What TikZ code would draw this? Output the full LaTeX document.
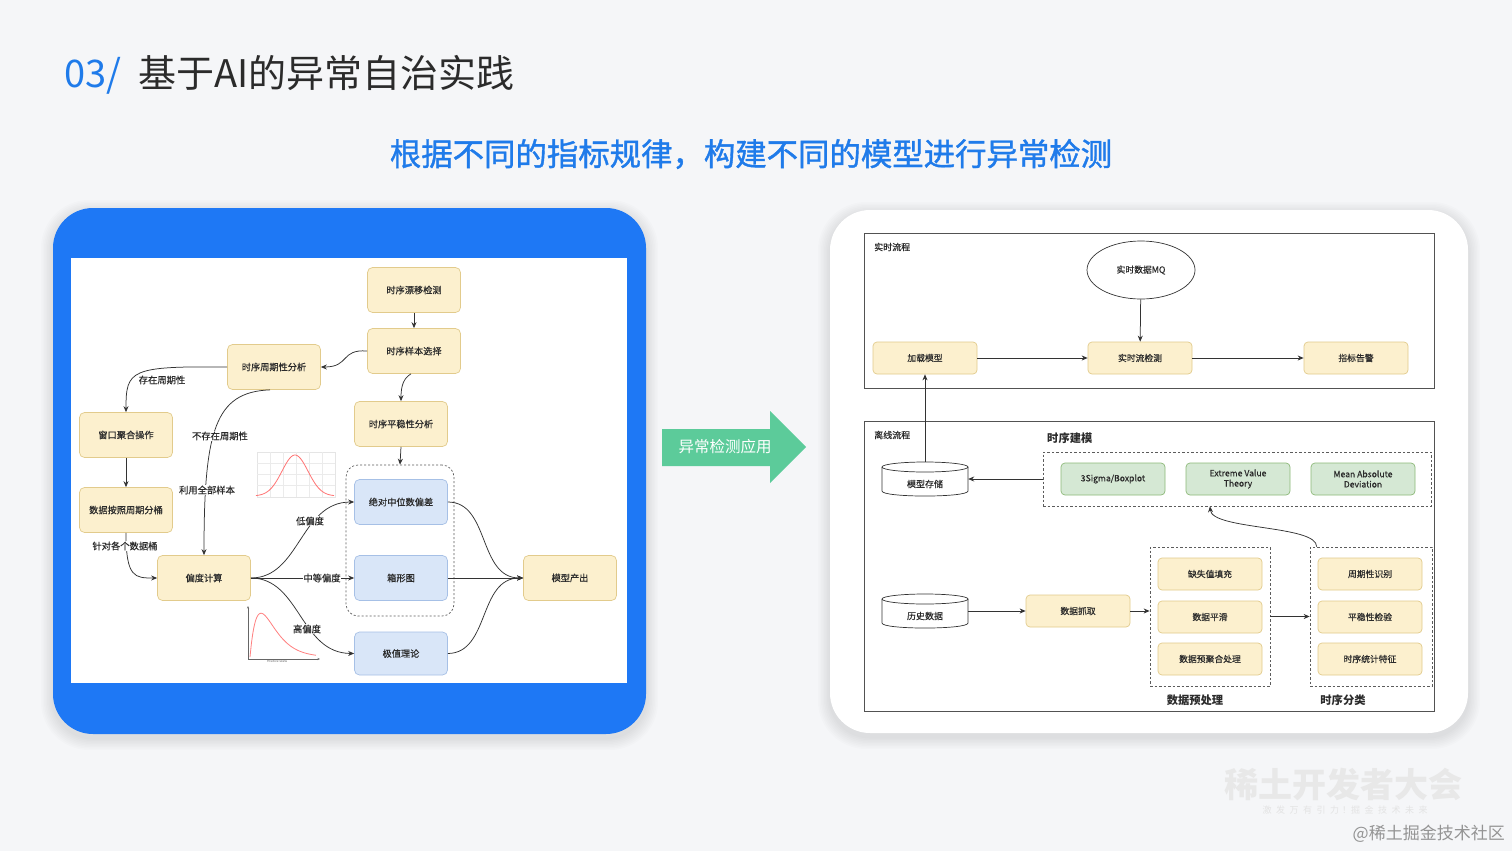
\documentclass[tikz,border=0pt]{standalone}
\usepackage{fontspec}
\setmainfont{Noto Sans CJK SC}
\newfontfamily\subfont[FakeBold=1.2]{Noto Sans CJK SC}
\newfontfamily\dfont[FakeBold=0.5]{Noto Sans CJK SC}
\usetikzlibrary{arrows.meta,shapes.geometric}
\definecolor{bgc}{HTML}{F5F6F8}
\definecolor{titleblue}{HTML}{1F7BEA}
\definecolor{panelblue}{HTML}{1E78F5}
\definecolor{txt}{HTML}{2B2B2B}
\definecolor{yfill}{HTML}{FCF0CE}
\definecolor{ybd}{HTML}{E2CB8C}
\definecolor{bfill}{HTML}{D9E6F8}
\definecolor{bbd}{HTML}{A6C0E6}
\definecolor{gfill}{HTML}{D5E8D4}
\definecolor{gbd}{HTML}{8DB979}
\definecolor{garrow}{HTML}{5CCB9A}
\definecolor{lnc}{HTML}{333333}
\newcommand\myfs[1]{\fontsize{#1}{#1}\selectfont}
\newcommand\mycyl[2]{%
  \fill[white] ({#1-43},{#2-12}) -- ({#1-43},{#2+12}) .. controls ({#1-43},{#2+18.7}) and ({#1+43},{#2+18.7}) .. ({#1+43},{#2+12}) -- ({#1+43},{#2-12}) .. controls ({#1+43},{#2-18.7}) and ({#1-43},{#2-18.7}) .. cycle;
  \draw[line width=0.7pt,lnc] ({#1-43},{#2-12}) -- ({#1-43},{#2+12}) .. controls ({#1-43},{#2+18.7}) and ({#1+43},{#2+18.7}) .. ({#1+43},{#2+12}) -- ({#1+43},{#2-12});
  \draw[line width=0.7pt,lnc] ({#1},{#2-12}) ellipse [x radius=43, y radius=5];
}
\newcommand\softshadow[5]{%
  \foreach \s in {1,...,8} {
    \fill[black, opacity=0.012, rounded corners={#5+\s}] ({#1-\s*1.5},{#2-\s*1.5+4}) rectangle ({#3+\s*1.5},{#4+\s*1.5+4});
  }
}
\tikzset{
  yl/.style={draw=ybd, fill=yfill, rounded corners=5pt, minimum width=93pt, minimum height=45pt, font=\dfont\myfs{9.2}, text=txt, line width=0.7pt, inner sep=1pt},
  bl/.style={yl, draw=bbd, fill=bfill},
  yr/.style={draw=ybd, fill=yfill, rounded corners=4pt, minimum width=104pt, minimum height=32pt, font=\dfont\myfs{8.8}, text=txt, line width=0.7pt, inner sep=1pt},
  gr/.style={yr, draw=gbd, fill=gfill, align=center, font=\dfont\fontsize{8.6}{10.2}\selectfont},
  lab/.style={fill=white, inner sep=0.8pt, font=\dfont\myfs{9.3}, text=txt},
  arr/.style={-{Stealth[length=6pt,width=5pt]}, line width=0.75pt, draw=lnc},
  dbox/.style={draw=lnc!80, dash pattern=on 2.5pt off 2pt, line width=0.7pt},
  frame/.style={draw=lnc!85, line width=1pt, fill=white},
  hd/.style={font=\bfseries\myfs{11.3}, text=txt, inner sep=0pt},
  sm/.style={font=\dfont\myfs{9}, text=txt, inner sep=0pt},
}
\begin{document}
\begin{tikzpicture}[x=1pt,y=-1pt]
\useasboundingbox (0,0) rectangle (1512,851);
\fill[bgc] (0,0) rectangle (1512,851);

% ---------------- titles
\node[anchor=base west, text=titleblue, font=\myfs{38}, inner sep=0] (num) at (64,88) {03/};
\node[anchor=base west, text=txt, font=\myfs{38}, inner sep=0] (title) at (138,88) {基于AI的异常自治实践};
\node[text=titleblue, font=\subfont\myfs{31.4}, inner sep=0] (sub) at (751,154) {根据不同的指标规律，构建不同的模型进行异常检测};

% ---------------- left panel
\softshadow{53}{208}{646}{734}{40}
\fill[panelblue, rounded corners=40pt] (53,208) rectangle (646,734);
\fill[white] (71,258) rectangle (627,683);

% small plots
\draw[black!10, line width=0.4pt] (257,452) rectangle (335,497);
\foreach \gx in {270,283,296,309,322} \draw[black!8, line width=0.4pt] (\gx,452) -- (\gx,497);
\foreach \gy in {463,474,485} \draw[black!8, line width=0.4pt] (257,\gy) -- (335,\gy);
\draw[red!55, line width=0.8pt] plot[domain=-3:3, samples=50, smooth] ({295+\x*13},{496-41*exp(-\x*\x/2)});
\draw[black!60, line width=0.5pt, -{Stealth[length=2.5pt,width=2pt]}] (248,659) -- (248,606);
\draw[black!60, line width=0.5pt, -{Stealth[length=2.5pt,width=2pt]}] (248,659) -- (320,659);
\draw[red!50, line width=0.8pt] plot[domain=0:6, samples=50, smooth] ({250+\x*11},{657-119*\x*exp(-\x)});
\node[font=\myfs{3.2}, text=black!60, inner sep=0] (pskew) at (277,661) {Positive Skew};

% nodes
\node[yl] (drift) at (414,290) {时序漂移检测};
\node[yl] (samp) at (414,351) {时序样本选择};
\node[yl] (per) at (274,367) {时序周期性分析};
\node[yl] (stab) at (401,424) {时序平稳性分析};
\node[yl] (win) at (126,435) {窗口聚合操作};
\node[yl] (buck) at (126,510) {数据按照周期分桶};
\node[yl] (skew) at (204,578) {偏度计算};
\node[draw=lnc!80, dash pattern=on 2pt off 2pt, rounded corners=12pt, line width=0.7pt, minimum width=108pt, minimum height=151pt] (grp) at (400,540.5) {};
\node[bl] (mad) at (401,502) {绝对中位数偏差};
\node[bl] (boxp) at (401,578) {箱形图};
\node[bl, minimum height=43pt] (evt) at (401,653.5) {极值理论};
\node[yl] (out) at (570,578) {模型产出};

% edges
\draw[arr] (drift) -- (samp);
\draw[arr] (samp.west) .. controls (340,349) and (350,367) .. (per.east);
\draw[arr] ([xshift=-3pt]samp.south) .. controls (404,378) and (401,385) .. (stab.north);
\draw[arr] (stab.south) -- (grp.north);
\draw[arr] (per.west) .. controls (130,366) and (126,370) .. (win.north);
\draw[arr] ([xshift=-4pt]per.south) .. controls (215,392) and (204,430) .. (skew.north);
\draw[arr] (win) -- (buck);
\draw[arr] (buck.south) .. controls (126,578) and (135,578) .. (skew.west);
\draw[arr] (skew.east) .. controls (300,578) and (300,502) .. (mad.west);
\draw[arr] (skew.east) -- (boxp.west);
\draw[arr] (skew.east) .. controls (300,578) and (300,653) .. (evt.west);
\draw[arr] (mad.east) .. controls (490,502) and (478,578) .. (out.west);
\draw[arr] (boxp.east) -- (out.west);
\draw[arr] (evt.east) .. controls (490,653) and (478,578) .. (out.west);

% labels
\node[lab, fill=none] (l1) at (162,380) {存在周期性};
\node[lab] (l2) at (220,436) {不存在周期性};
\node[lab] (l3) at (207,490) {利用全部样本};
\node[lab] (l4) at (125,546) {针对各个数据桶};
\node[lab] (l5) at (310,521) {低偏度};
\node[lab] (l6) at (322,578) {中等偏度};
\node[lab] (l7) at (307,629) {高偏度};

% ---------------- green arrow
\fill[garrow] (662,429) -- (770,429) -- (770,411) -- (806,447) -- (770,483) -- (770,466) -- (662,466) -- cycle;
\node[text=white, font=\myfs{15.5}, inner sep=0] (ga) at (725,447) {异常检测应用};

% ---------------- right panel
\softshadow{830}{210}{1468}{733}{40}
\fill[white, rounded corners=40pt] (830,210) rectangle (1468,733);

\node[frame, minimum width=570pt, minimum height=155pt] (rt) at (1149,310.5) {};
\node[frame, minimum width=570pt, minimum height=290pt] (off) at (1149,566) {};
\node[sm, anchor=west] (rtl) at (874,247) {实时流程};
\node[sm, anchor=west] (offl) at (874,435) {离线流程};

\node[ellipse, draw=lnc, line width=0.7pt, fill=white, minimum width=108pt, minimum height=58pt, font=\dfont\myfs{8.8}, text=txt] (mq) at (1141,270) {实时数据MQ};
\node[yr] (load) at (925,358) {加载模型};
\node[yr] (rtd) at (1140,358) {实时流检测};
\node[yr] (alarm) at (1356,358) {指标告警};
\draw[arr] (mq) -- (rtd);
\draw[arr] (load) -- (rtd);
\draw[arr] (rtd) -- (alarm);

\node[hd, anchor=west] (tsmt) at (1047,438) {时序建模};
\node[dbox, minimum width=388pt, minimum height=54pt] (tsm) at (1237,479) {};
\node[gr] (g1) at (1113,479) {3Sigma/Boxplot};
\node[gr] (g2) at (1238,479) {Extreme Value\\Theory};
\node[gr] (g3) at (1363,479) {Mean Absolute\\Deviation};

\mycyl{925}{479}
\node[minimum width=86pt, minimum height=34pt, inner sep=0] (ms) at (925,479) {};
\node[sm] (mst) at (925,484) {模型存储};
\draw[arr] (ms.north) -- (load.south);
\draw[arr] (tsm.west) -- (ms.east);

\mycyl{925}{611}
\node[minimum width=86pt, minimum height=34pt, inner sep=0] (hist) at (925,611) {};
\node[sm] (histt) at (925,616) {历史数据};
\node[yr] (grab) at (1078,611) {数据抓取};
\node[dbox, minimum width=120pt, minimum height=139pt] (pre) at (1210,616.5) {};
\node[yr] (p1) at (1210,574) {缺失值填充};
\node[yr] (p2) at (1210,617) {数据平滑};
\node[yr] (p3) at (1210,659) {数据预聚合处理};
\node[dbox, minimum width=122pt, minimum height=139pt] (cls) at (1371,616.5) {};
\node[yr] (c1) at (1370,574) {周期性识别};
\node[yr] (c2) at (1370,617) {平稳性检验};
\node[yr] (c3) at (1370,659) {时序统计特征};
\node[hd] (prel) at (1195,700) {数据预处理};
\node[hd] (clsl) at (1343,700) {时序分类};

\draw[arr] (hist.east) -- (grab.west);
\draw[arr] (grab.east) -- (grab.east -| pre.west);
\draw[arr] (pre.east) -- (cls.west);
\draw[arr] ([xshift=7pt]cls.north west) .. controls (1317,525) and (1212,530) .. ([xshift=-27pt]tsm.south);

% ---------------- watermark
\node[font=\bfseries\myfs{34}, text=black!9, inner sep=0] (wm1) at (1343,785) {稀土开发者大会};
\node[font=\myfs{9}, text=black!11, inner sep=0] (wm2) at (1345,810) {激\,\,\,发\,\,\,万\,\,\,有\,\,\,引\,\,\,力\,\,！掘\,\,\,金\,\,\,技\,\,\,术\,\,\,未\,\,\,来};
\node[font=\myfs{17}, text=black!42, inner sep=0, anchor=east] (wm3) at (1505,834) {@稀土掘金技术社区};
\end{tikzpicture}
\end{document}
